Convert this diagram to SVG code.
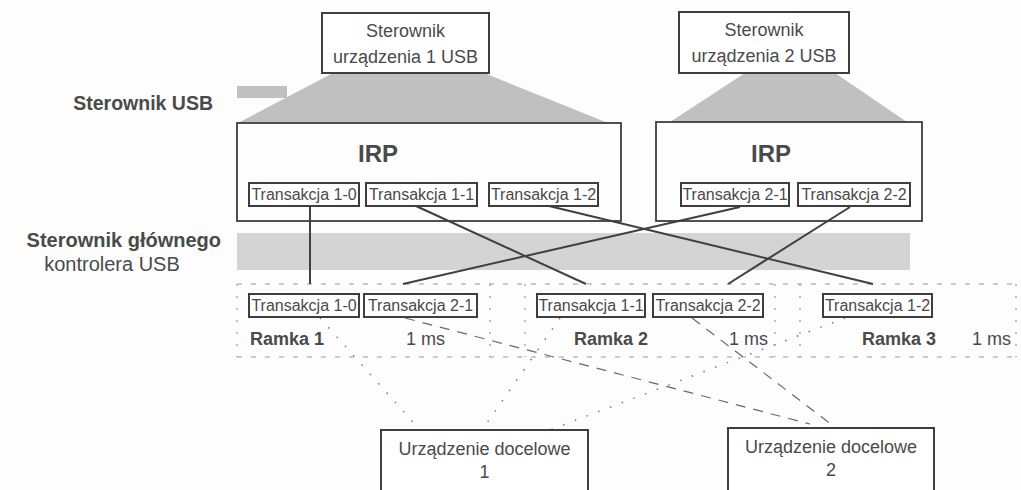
<svg xmlns="http://www.w3.org/2000/svg" width="1021" height="490" viewBox="0 0 1021 490">
<defs>
<style>
.bx{fill:#fff;stroke:#3e3e3e;stroke-width:2}
.tb{fill:none;stroke:#3e3e3e;stroke-width:1.8}
.t{font-family:"Liberation Sans",Arial,sans-serif;fill:#4a4a4a}
.tr{font-size:16px;text-anchor:middle}
.big{font-size:18px;text-anchor:middle}
.gray{fill:#c0c0c0}
.band{fill:#d4d4d4}
.solid{stroke:#404040;stroke-width:2;fill:none}
.dash{stroke:#6a6a6a;stroke-width:1.2;stroke-dasharray:10 8;fill:none}
.dot{stroke:#7a7a7a;stroke-width:1.5;stroke-dasharray:1.5 11;fill:none}
.frame{stroke:#999;stroke-width:1.2;stroke-dasharray:5 9;fill:none}
.fv{stroke:#999;stroke-width:1.2;stroke-dasharray:2 10;fill:none}
</style>
</defs>
<rect x="0" y="0" width="1021" height="490" fill="#fdfdfd"/>

<g id="layers">
<polygon class="gray" points="333,73 484,73 608,123 238,123"/>
<polygon class="gray" points="745,73 835,73 907,122 670,122"/>
<rect class="gray" x="237" y="86" width="50" height="12"/>
<rect class="band" x="237" y="233" width="673" height="37"/>
<text class="t" x="213" y="110" font-size="19.5" font-weight="bold" text-anchor="end">Sterownik USB</text>
<text class="t" x="221" y="247" font-size="20" font-weight="bold" text-anchor="end">Sterownik głównego</text>
<text class="t" x="112" y="271" font-size="20" text-anchor="middle">kontrolera USB</text>
</g>

<g id="frames">
<line class="frame" x1="237" y1="284" x2="1018" y2="284"/>
<line class="frame" x1="237" y1="357" x2="1018" y2="357"/>
<line class="fv" x1="237" y1="284" x2="237" y2="357"/>
<line class="fv" x1="490" y1="284" x2="490" y2="357"/>
<line class="fv" x1="525" y1="284" x2="525" y2="357"/>
<line class="fv" x1="775" y1="284" x2="775" y2="357"/>
<line class="fv" x1="800" y1="284" x2="800" y2="357"/>
<line class="fv" x1="1016" y1="284" x2="1016" y2="357"/>
<text class="t" x="250" y="345" font-size="18" font-weight="bold">Ramka 1</text>
<text class="t" x="406" y="345" font-size="18">1 ms</text>
<text class="t" x="574" y="345" font-size="18" font-weight="bold">Ramka 2</text>
<text class="t" x="729" y="345" font-size="18">1 ms</text>
<text class="t" x="862" y="345" font-size="18" font-weight="bold">Ramka 3</text>
<text class="t" x="972" y="345" font-size="18">1 ms</text>
</g>

<g id="connectors">
<line class="solid" x1="310" y1="206" x2="310" y2="284"/>
<line class="solid" x1="416" y1="206" x2="586" y2="284"/>
<line class="solid" x1="549" y1="206" x2="873" y2="284"/>
<line class="solid" x1="740" y1="207" x2="403" y2="284"/>
<line class="solid" x1="850" y1="207" x2="728" y2="284"/>
<line class="dot" x1="320" y1="318" x2="420" y2="430"/>
<line class="dash" x1="405" y1="318" x2="810" y2="424"/>
<line class="dot" x1="560" y1="318" x2="482" y2="430"/>
<line class="dash" x1="692" y1="318" x2="836" y2="428"/>
<line class="dot" x1="845" y1="318" x2="550" y2="430"/>
</g>

<g id="driver1">
<rect class="bx" x="322" y="13" width="167" height="60"/>
<text class="t big" x="405.5" y="37">Sterownik</text>
<text class="t big" x="405.5" y="63">urządzenia 1 USB</text>
</g>
<g id="driver2">
<rect class="bx" x="679" y="12" width="170" height="61"/>
<text class="t big" x="764" y="36">Sterownik</text>
<text class="t big" x="764" y="62">urządzenia 2 USB</text>
</g>

<g id="irp1">
<rect class="tb" x="237" y="123" width="384" height="98"/>
<text class="t" x="378" y="162" font-size="24" font-weight="bold" text-anchor="middle">IRP</text>
</g>
<g id="irp1-t10"><rect class="bx" x="249" y="183" width="110" height="23"/><text class="t tr" x="304" y="200">Transakcja 1-0</text></g>
<g id="irp1-t11"><rect class="bx" x="366" y="183" width="111" height="23"/><text class="t tr" x="421.5" y="200">Transakcja 1-1</text></g>
<g id="irp1-t12"><rect class="bx" x="489" y="183" width="109" height="23"/><text class="t tr" x="543.5" y="200">Transakcja 1-2</text></g>

<g id="irp2">
<rect class="tb" x="656" y="122" width="266" height="99"/>
<text class="t" x="771" y="162" font-size="24" font-weight="bold" text-anchor="middle">IRP</text>
</g>
<g id="irp2-t21"><rect class="bx" x="681" y="183" width="108" height="23"/><text class="t tr" x="735" y="200">Transakcja 2-1</text></g>
<g id="irp2-t22"><rect class="bx" x="798" y="183" width="112" height="23"/><text class="t tr" x="854" y="200">Transakcja 2-2</text></g>

<g id="f-t10"><rect class="bx" x="249" y="294" width="110" height="23"/><text class="t tr" x="304" y="311">Transakcja 1-0</text></g>
<g id="f-t21"><rect class="bx" x="364" y="294" width="113" height="23"/><text class="t tr" x="420.5" y="311">Transakcja 2-1</text></g>
<g id="f-t11"><rect class="bx" x="537" y="294" width="108" height="23"/><text class="t tr" x="591" y="311">Transakcja 1-1</text></g>
<g id="f-t22"><rect class="bx" x="653" y="294" width="110" height="23"/><text class="t tr" x="708" y="311">Transakcja 2-2</text></g>
<g id="f-t12"><rect class="bx" x="823" y="294" width="109" height="23"/><text class="t tr" x="877.5" y="311">Transakcja 1-2</text></g>

<g id="device1">
<rect class="bx" x="381" y="430" width="207" height="72"/>
<text class="t big" x="484.5" y="455">Urządzenie docelowe</text>
<text class="t big" x="484.5" y="478">1</text>
</g>
<g id="device2">
<rect class="bx" x="728" y="428" width="206" height="74"/>
<text class="t big" x="831" y="453">Urządzenie docelowe</text>
<text class="t big" x="831" y="476">2</text>
</g>
</svg>
